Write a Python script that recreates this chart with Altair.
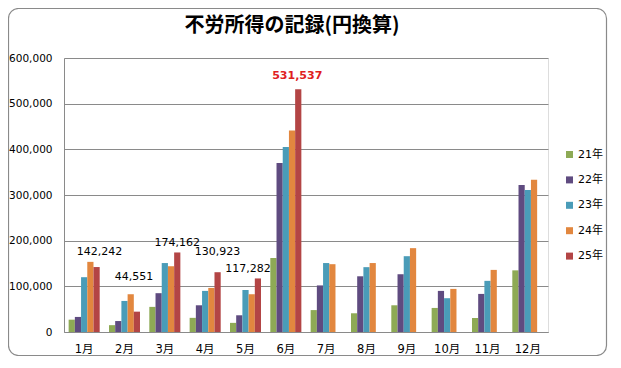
import altair as alt
import pandas as pd

months = ["1月", "2月", "3月", "4月", "5月", "6月", "7月", "8月", "9月", "10月", "11月", "12月"]
series = ["21年", "22年", "23年", "24年", "25年"]
v21 = [27000, 15000, 55000, 31000, 20000, 162000, 48000, 41000, 58500, 52700, 30700, 135000]
v22 = [33000, 24000, 85000, 58500, 36600, 370000, 102000, 122000, 126500, 90000, 83400, 322000]
v23 = [120000, 68000, 151000, 90000, 92000, 405000, 151000, 142000, 166000, 74000, 112000, 311000]
v24 = [153600, 82700, 144000, 96500, 82700, 441000, 148500, 151000, 183600, 94400, 136000, 333600]
v25 = [142242, 44551, 174162, 130923, 117282, 531537, None, None, None, None, None, None]
colors = ["#8EAA55", "#5F4B80", "#4A9CB8", "#E2873F", "#B34545"]
title_text = "不労所得の記録(円換算)"

rows = []
for s, vals in zip(series, [v21, v22, v23, v24, v25]):
    for m, v in zip(months, vals):
        rows.append({"month": m, "series": s, "value": v})
df = pd.DataFrame(rows)

FONT = "DejaVu Sans, Noto Sans CJK JP"

x_enc = alt.X("month:N", sort=months, title=None,
              scale=alt.Scale(paddingInner=0.23, paddingOuter=0.115),
              axis=alt.Axis(labelAngle=0, ticks=False, labelFont=FONT, labelFontSize=11.5,
                            labelColor="#000000", labelPadding=11, domainColor="#8a8a8a",
                            grid=False))
xo_enc = alt.XOffset("series:N", sort=series, scale=alt.Scale(paddingInner=0, paddingOuter=0))
y_axis = alt.Axis(values=[0, 100000, 200000, 300000, 400000, 500000, 600000],
                  format=",.0f", ticks=False, labelFont=FONT, labelFontSize=10.5,
                  labelColor="#000000", labelPadding=12, domainColor="#8a8a8a",
                  gridColor="#8a8a8a", gridWidth=1)
y_enc = alt.Y("value:Q", title=None, scale=alt.Scale(domain=[0, 600000], nice=False), axis=y_axis)

base = alt.Chart(df)

bars = base.mark_bar().encode(
    x=x_enc,
    xOffset=xo_enc,
    y=y_enc,
    color=alt.Color("series:N", sort=series, title=None,
                    scale=alt.Scale(domain=series, range=colors),
                    legend=alt.Legend(orient="none", legendX=500, legendY=91,
                                      symbolType="square", symbolSize=49, symbolStrokeWidth=0,
                                      labelFont=FONT, labelFontSize=11, labelColor="#000000",
                                      rowPadding=13.4, labelOffset=3)),
)

# data label styling per month (manual placement as in the original)
label_style = {
    "1月": (3, -15, "#000000", "normal"),
    "2月": (-3, -35, "#000000", "normal"),
    "3月": (0, -9, "#000000", "normal"),
    "4月": (0, -20, "#000000", "normal"),
    "5月": (-10, -9, "#000000", "normal"),
    "6月": (-1, -13, "#E0201E", "bold"),
}

layers = [bars]
for m, (dx, dy, col, fw) in label_style.items():
    t = base.transform_filter(
        (alt.datum.series == "25年") & (alt.datum.month == m)
    ).mark_text(dx=dx, dy=dy, baseline="middle", align="center", font=FONT,
                fontSize=11, color=col, fontWeight=fw).encode(
        x=x_enc,
        xOffset=xo_enc,
        y=y_enc,
        text=alt.Text("value:Q", format=",.0f"),
    )
    layers.append(t)

title = alt.Chart(pd.DataFrame({"t": [title_text]})).mark_text(
    font="Noto Sans CJK JP", fontSize=20, fontWeight="bold", color="#000000",
    align="center", baseline="middle", clip=False
).encode(x=alt.value(228), y=alt.value(-32), text="t:N")
layers.append(title)

border = alt.Chart(pd.DataFrame({"a": [0]})).mark_rect(
    fill=None, stroke="#8a8a8a", strokeWidth=1.2, cornerRadius=10, clip=False
).encode(
    x=alt.value(-55.5), x2=alt.value(542.5), y=alt.value(-49.5), y2=alt.value(297.5)
)
layers.append(border)

chart = alt.layer(*layers).properties(
    width=484,
    height=274,
    autosize=alt.AutoSizeParams(type="none"),
    padding={"left": 56, "top": 50, "right": 60, "bottom": 24},
).configure_view(stroke=None).configure(background="#ffffff")

chart.save("out.html", embed_options={"renderer": "svg", "actions": False})
